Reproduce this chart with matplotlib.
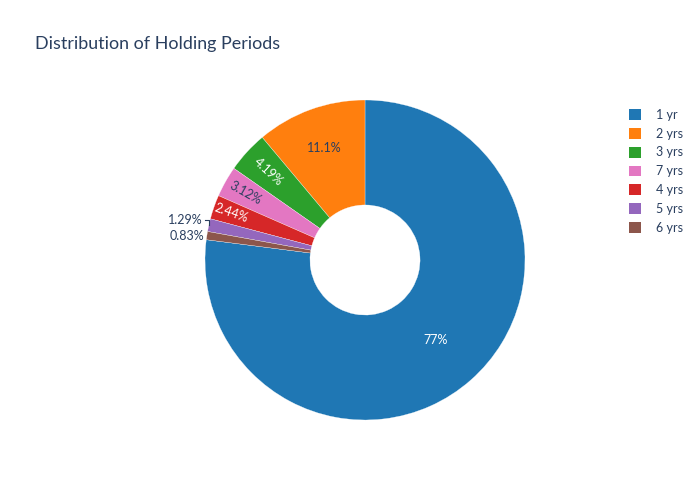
import numpy as np
import matplotlib
matplotlib.use("Agg")
import matplotlib.pyplot as plt
from matplotlib.patches import Patch

# ---- data ----
labels = ["1 yr", "2 yrs", "3 yrs", "7 yrs", "4 yrs", "5 yrs", "6 yrs"]
percent = [77.0, 11.1, 4.19, 3.12, 2.44, 1.29, 0.83]
title = "Distribution of Holding Periods"

# ---- style ----
colors = ["#1f77b4", "#ff7f0e", "#2ca02c", "#e377c2", "#d62728", "#9467bd", "#8c564b"]
DARK = "#2a3f5f"
text_colors = ["white", DARK, "white", DARK, "white", DARK, DARK]
label_radius = [0.67, 0.745, 0.82, 0.86, 0.887, None, None]
radial = [False, False, True, True, True, False, False]
outside_offsets_px = {5: (-6, 5), 6: (-3, 0)}
HOLE = 0.344
FONT = ["Lato", "DejaVu Sans"]
plt.rcParams["font.family"] = FONT

fig = plt.figure(figsize=(7, 5), dpi=100)
fig.patch.set_facecolor("white")
R_PX = 160
cx, cy = 365, 260
ax = fig.add_axes([(cx - R_PX) / 700, (500 - cy - R_PX) / 500, 2 * R_PX / 700, 2 * R_PX / 500])

total = sum(percent)
start = 90 - percent[0] / total * 360
wedges, _ = ax.pie(percent, colors=colors, startangle=start, counterclock=True,
                   radius=1, wedgeprops=dict(width=1 - HOLE, edgecolor="white", linewidth=0.2))
ax.set_xlim(-1, 1)
ax.set_ylim(-1, 1)
ax.set_aspect("equal")
ax.axis("off")

px = 1.0 / R_PX
for i, w in enumerate(wedges):
    mid = np.deg2rad((w.theta1 + w.theta2) / 2)
    txt = f"{percent[i]:.3g}%"
    if label_radius[i] is not None:
        r = label_radius[i]
        rot = np.rad2deg(mid) - 180 if radial[i] else 0
        ax.text(r * np.cos(mid), r * np.sin(mid), txt, color=text_colors[i],
                fontsize=9, ha="center", va="center", rotation=rot,
                rotation_mode="anchor")
    else:
        ex, ey = np.cos(mid), np.sin(mid)
        dx, dy = outside_offsets_px[i]
        tx, ty = ex + dx * px, ey + dy * px
        if dy != 0:
            ax.plot([ex, ex, tx + 2 * px], [ey, ty, ty], color=DARK, lw=0.8,
                    clip_on=False)
        ax.text(tx, ty, txt, color=DARK, fontsize=9, ha="right", va="center")

fig.text(35 / 700, 1 - 44 / 500, title, fontsize=12.9, color=DARK,
         ha="left", va="center")

handles = [Patch(facecolor=c, edgecolor="none") for c in colors]
leg = fig.legend(handles, labels, loc="upper left",
                 bbox_to_anchor=(624 / 700, 1 - 104 / 500), frameon=False,
                 fontsize=9, handlelength=0.95, handleheight=0.95,
                 handletextpad=1.25, labelspacing=0.54, borderaxespad=0)
for t in leg.get_texts():
    t.set_color(DARK)

fig.savefig("out.png", dpi=100, facecolor="white")
